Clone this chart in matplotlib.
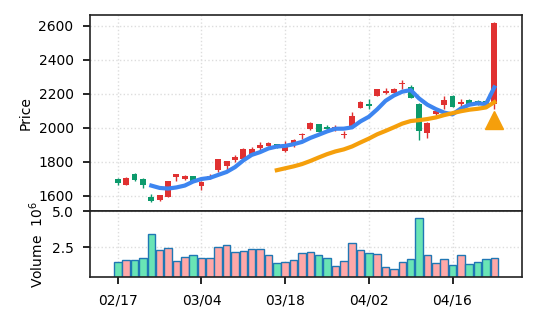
import matplotlib
matplotlib.use("Agg")
import matplotlib.pyplot as plt
import numpy as np
import pandas as pd

# daily OHLC (price) and volume (millions)
opens = [1696, 1663, 1727, 1700, 1594, 1571, 1594, 1712, 1696, 1716,
         1657, 1700, 1751, 1774, 1810, 1818, 1843, 1883, 1892, 1902,
         1861, 1896, 1957, 1990, 2020, 2006, 1986, 1955, 2010, 2118,
         2141, 2190, 2206, 2206, 2255, 2241, 2137, 1967, 2079, 2133,
         2190, 2137, 2163, 2157, 2160, 2137]
closes = [1671, 1702, 1692, 1663, 1565, 1602, 1683, 1726, 1718, 1684,
          1677, 1716, 1814, 1804, 1826, 1877, 1877, 1896, 1912, 1883,
          1896, 1926, 1963, 2030, 1977, 1994, 2006, 1965, 2069, 2153,
          2130, 2226, 2216, 2226, 2265, 2177, 1980, 2030, 2098, 2161,
          2124, 2153, 2142, 2140, 2137, 2618]
highs = [1706, 1708, 1733, 1703, 1608, 1604, 1686, 1728, 1720, 1718,
         1686, 1726, 1816, 1806, 1837, 1880, 1884, 1916, 1914, 1905,
         1920, 1936, 1967, 2033, 2023, 2014, 2014, 1980, 2094, 2155,
         2167, 2228, 2236, 2236, 2284, 2249, 2147, 2033, 2112, 2190,
         2192, 2167, 2167, 2162, 2164, 2622]
lows = [1661, 1660, 1684, 1645, 1563, 1568, 1592, 1686, 1694, 1682,
        1633, 1698, 1739, 1751, 1798, 1816, 1837, 1867, 1890, 1880,
        1858, 1889, 1932, 1988, 1975, 1979, 1980, 1942, 2008, 2115,
        2108, 2188, 2196, 2204, 2226, 2174, 1927, 1937, 2073, 2108,
        2122, 2122, 2138, 2134, 2132, 2108]
volumes = [1.46, 1.65, 1.65, 1.79, 3.44, 2.29, 2.43, 1.53, 1.86, 1.96,
           1.79, 1.79, 2.50, 2.64, 2.17, 2.22, 2.36, 2.38, 1.96, 1.39,
           1.49, 1.60, 2.10, 2.17, 1.96, 1.75, 1.23, 1.53, 2.81, 2.29,
           2.10, 2.03, 1.11, 0.97, 1.49, 1.67, 4.58, 1.96, 1.39, 1.67,
           1.25, 1.96, 1.32, 1.46, 1.67, 1.75]

tick_idx = [0, 10, 20, 30, 40]
tick_labels = ["02/17", "03/04", "03/18", "04/02", "04/16"]

# buy signal (index, price level of the marker)
signal_idx = [45]
signal_price = [2045]

UP = "#e03131"
DOWN = "#0c9a6c"
VOL_UP = "#ffa8a8"
VOL_DOWN = "#69e4b5"

df = pd.DataFrame({"open": opens, "close": closes, "high": highs,
                   "low": lows, "vol": volumes})
df["ma5"] = df["close"].rolling(5).mean()
df["ma20"] = df["close"].rolling(20).mean()
x = np.arange(len(df))
up = df["close"] >= df["open"]

fig, (ax, axv) = plt.subplots(2, 1, figsize=(5.37, 3.22), dpi=100, sharex=True,
                              gridspec_kw={"height_ratios": [3, 1], "hspace": 0})
fig.subplots_adjust(left=0.168, right=0.972, top=0.953, bottom=0.14)

# candles
colors = np.where(up, UP, DOWN)
ax.vlines(x, df["low"], df["high"], colors=colors, linewidth=1, zorder=2)
body_lo = np.minimum(df["open"], df["close"])
body_h = np.abs(df["close"] - df["open"])
ax.bar(x, body_h, bottom=body_lo, width=0.7, color=colors, zorder=3)

ax.plot(x, df["ma5"], color="#3d85f0", lw=3, zorder=4)
ax.plot(x, df["ma20"], color="#f59f0b", lw=3, zorder=4)
ax.plot(signal_idx, signal_price, "^", color="#f59f0b", ms=13, zorder=5)

ax.set_ylim(1506, 2664)
ax.set_ylabel("Price")
ax.grid(True, linestyle=":", color="#dddddd", linewidth=1)
ax.tick_params(axis="x", length=0)

# volume
vcol = np.where(up, VOL_UP, VOL_DOWN)
axv.bar(x, df["vol"], width=0.9, color=vcol, edgecolor="#1f77b4", linewidth=1)
axv.set_ylim(0.45, 5.0)
axv.set_yticks([2.5, 5.0])
axv.set_ylabel(r"Volume  $10^6$")
axv.grid(True, linestyle=":", color="#dddddd", linewidth=1)

axv.set_xlim(-3.3, 48.3)
axv.set_xticks(tick_idx)
axv.set_xticklabels(tick_labels)

ax.tick_params(axis="y", length=5, width=1.2, pad=7)
axv.tick_params(axis="both", length=5, width=1.2, pad=7)

for a in (ax, axv):
    a.set_axisbelow(True)
    for s in a.spines.values():
        s.set_linewidth(1.2)
        s.set_color("#222222")

fig.savefig("out.png", dpi=100)
